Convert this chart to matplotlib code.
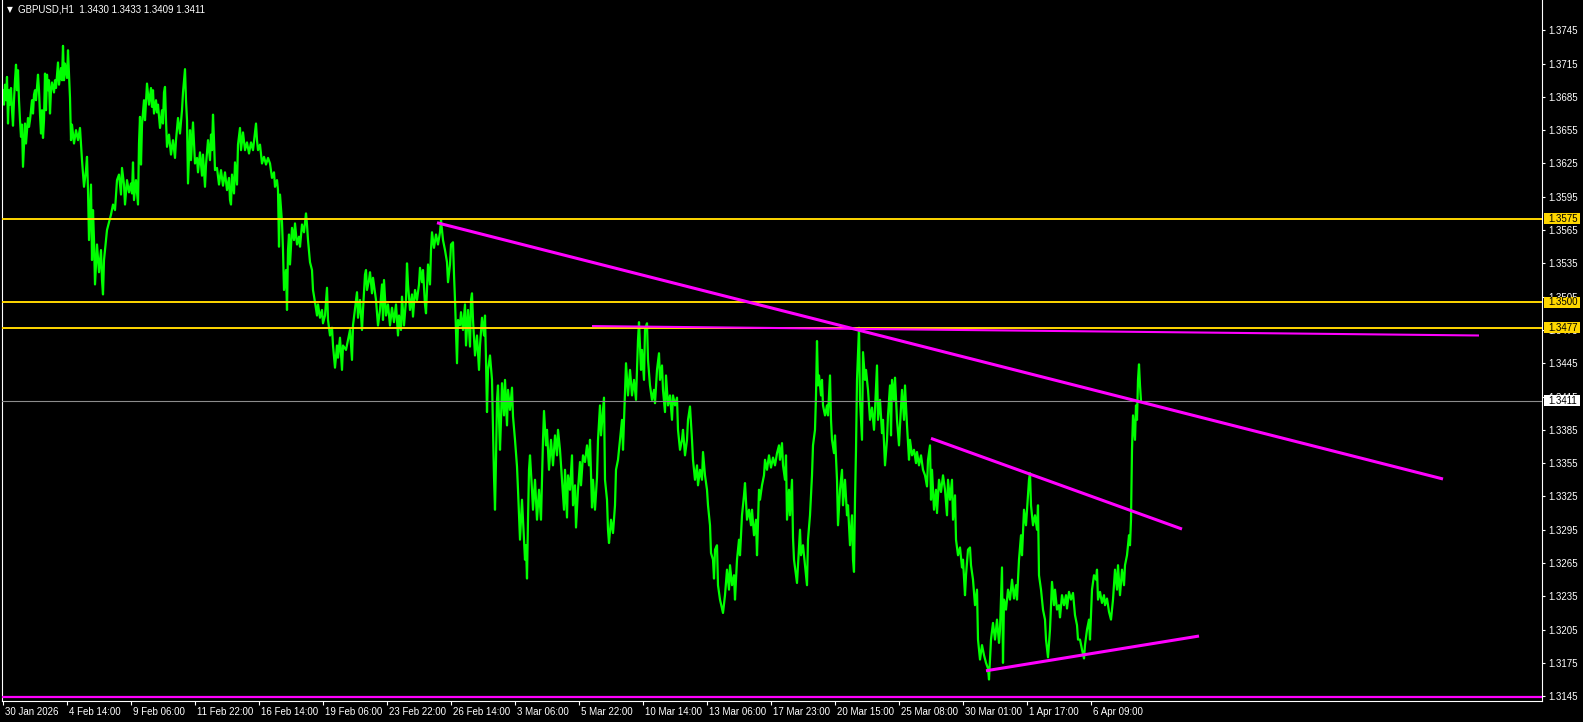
import matplotlib
matplotlib.use("Agg")
import matplotlib.pyplot as plt
from matplotlib.patches import Rectangle
from matplotlib.transforms import ScaledTranslation

plt.rcParams['font.family'] = ['Liberation Sans', 'DejaVu Sans']

symbol = "GBPUSD,H1"
last_ohlc = [1.3430, 1.3433, 1.3409, 1.3411]

# price path, (bar number, price)
seg_a = [(0,1.3691),(1,1.3678),(2,1.3696),(3,1.3682),(4,1.3703),(5,1.3661),(6,1.3691),(7,1.3678),(8,1.3693),(9,1.3673),
         (10,1.3659),(11,1.3682),(12,1.3700),(13,1.3714),(14,1.3691),(15,1.3709),(16,1.3682),(17,1.3664),(18,1.3649),(19,1.3660),
         (20,1.3622),(21,1.3642),(22,1.3661),(23,1.3643),(24,1.3655),(25,1.3666),(26,1.3658),(27,1.3664),(29,1.3682),(30,1.3670),
         (31,1.3687),(32,1.3691),(33,1.3682),(35,1.3705),(36,1.3691),(37,1.3669),(38,1.3652),(39,1.3673),(40,1.3648),(41,1.3664),
         (42,1.3706),(43,1.3673),(44,1.3705),(45,1.3691),(46,1.3700),(47,1.3670),(48,1.3691),(49,1.3698),(51,1.3689),(52,1.3700),
         (53,1.3693),(55,1.3716),(56,1.3696),(58,1.3711),(59,1.3700),(60,1.3731),(61,1.3700),(62,1.3715),(64,1.3702),(65,1.3727),
         (66,1.3705),(67,1.3684),(68,1.3646),(69,1.3660),(71,1.3643),(73,1.3655),(75,1.3646),(77,1.3657),(79,1.3628),(81,1.3604),
         (83,1.3619),(84,1.3631),(85,1.3601),(86,1.3556),(88,1.3606),(89,1.3538),(90,1.3583),(91,1.3556),(92,1.3516),(94,1.3552),
         (96,1.3527),(98,1.3547),(99,1.3520),(100,1.3507),(101,1.3538),(102,1.3547),(104,1.3565),(106,1.3572),(108,1.3579),(110,1.3588),
         (112,1.3583),(114,1.3610),(116,1.3615),(118,1.3597),(119,1.3621),(121,1.3606),(122,1.3588),(124,1.3610),(126,1.3599),(128,1.3607),
         (129,1.3598),(130,1.3626),(131,1.3592),(133,1.3610),(135,1.3588),(136,1.3643),(137,1.3667),(138,1.3624),(139,1.3660),(141,1.3682),
         (142,1.3664),(144,1.3697),(146,1.3678),(148,1.3693),(149,1.3676),(150,1.3691),(151,1.3670),(153,1.3682),(154,1.3671),(155,1.3678),
         (157,1.3657),(159,1.3673),(160,1.3661),(161,1.3689),(162,1.3694),(163,1.3664),(164,1.3640),(166,1.3651),(168,1.3633),(170,1.3646),
         (172,1.3630),(173,1.3646),(175,1.3666),(177,1.3652),(179,1.3673),(180,1.3689),(182,1.3710),(183,1.3682),(184,1.3664),(185,1.3607)]

seg_b = [(187,1.3655),(188,1.3628),(190,1.3662),(192,1.3625),(194,1.3630),(195,1.3617),(197,1.3635),(199,1.3614),(200,1.3633),(202,1.3604),
         (203,1.3624),(205,1.3646),(207,1.3628),(208,1.3651),(209,1.3637),(210,1.3669),(211,1.3646),(212,1.3619),(214,1.3621),(216,1.3606),
         (218,1.3619),(220,1.3605),(222,1.3617),(224,1.3601),(226,1.3612),(227,1.3592),(228,1.3588),(229,1.3615),(231,1.3598),(232,1.3626),
         (234,1.3606),(235,1.3642),(237,1.3657),(238,1.3637),(240,1.3653),(242,1.3637),(244,1.3644),(246,1.3634),(248,1.3644),(250,1.3637),
         (253,1.3661),(254,1.3646),(255,1.3637),(257,1.3642),(259,1.3625),(261,1.3631),(263,1.3624),(265,1.3630),(267,1.3625),(269,1.3612),
         (271,1.3617),(272,1.3604),(274,1.3610),(275,1.3601),(276,1.3550),(277,1.3597),(279,1.3572),(280,1.3547),(281,1.3511),(283,1.3529),
         (284,1.3493),(285,1.3547),(286,1.3561),(287,1.3534),(289,1.3567),(291,1.3556),(292,1.3571),(294,1.3552),(296,1.3559),(297,1.3550),
         (299,1.3570),(301,1.3563),(303,1.3580),(304,1.3570),(305,1.3556),(307,1.3536),(309,1.3529),(310,1.3511),(312,1.3500),(314,1.3488),
         (315,1.3498),(317,1.3486),(319,1.3493),(320,1.3481),(322,1.3488),(324,1.3513),(325,1.3484),(327,1.3470),(329,1.3477),(330,1.3461),
         (332,1.3441),(334,1.3461),(335,1.3450),(337,1.3468),(339,1.3439),(340,1.3461),(343,1.3457),(347,1.3475),(349,1.3448),(350,1.3479),
         (353,1.3502),(354,1.3509),(355,1.3486),(357,1.3502),(359,1.3475),(360,1.3493),(362,1.3525),(363,1.3529),(364,1.3511),(366,1.3520),
         (367,1.3527),(369,1.3508),(370,1.3522),(373,1.3502),(375,1.3479),(377,1.3493)]

seg_c = [(379,1.3516),(380,1.3484),(381,1.3520),(383,1.3488),(385,1.3498),(387,1.3479),(389,1.3495),(391,1.3482),(393,1.3498),(395,1.3470),
         (396,1.3488),(398,1.3475),(399,1.3505),(401,1.3479),(403,1.3502),(404,1.3535),(405,1.3516),(407,1.3493),(409,1.3507),(410,1.3487),
         (412,1.3511),(414,1.3502),(416,1.3516),(417,1.3531),(419,1.3518),(420,1.3529),(422,1.3498),(423,1.3490),(424,1.3511),(425,1.3534),
         (427,1.3516),(428,1.3547),(429,1.3563),(431,1.3549),(433,1.3561),(435,1.3552),(437,1.3563),(438,1.3574),(440,1.3556),(442,1.3547),
         (444,1.3536),(445,1.3518),(447,1.3534),(448,1.3552),(450,1.3554),(451,1.3525),(452,1.3502),(453,1.3475),(454,1.3445),(455,1.3484),
         (457,1.3479),(458,1.3491),(460,1.3475),(462,1.3498),(463,1.3461),(465,1.3493),(467,1.3460),(468,1.3502),(469,1.3508),(470,1.3484),
         (472,1.3452),(474,1.3470),(476,1.3439),(477,1.3461),(479,1.3486),(481,1.3470),(482,1.3488),(483,1.3448),(484,1.3401),(485,1.3439),
         (487,1.3452),(489,1.3430),(490,1.3385),(491,1.3343),(492,1.3313),(493,1.3358),(494,1.3412),(495,1.3425),(497,1.3367),(498,1.3394),
         (499,1.3427),(501,1.3398),(502,1.3430),(504,1.3389),(505,1.3421),(507,1.3403),(509,1.3423),(510,1.3397),(512,1.3376),(514,1.3352),
         (515,1.3331),(517,1.3286),(519,1.3322),(520,1.3304),(522,1.3268),(523,1.3281),(524,1.3251),(525,1.3304),(526,1.3349),(527,1.3362),
         (529,1.3331),(530,1.3313),(532,1.3340),(534,1.3304),(536,1.3331),(538,1.3304),(539,1.3340),(540,1.3376),(541,1.3402),(543,1.3371),
         (544,1.3385),(546,1.3349),(548,1.3376),(550,1.3353),(552,1.3380),(554,1.3362),(555,1.3385),(557,1.3367),(559,1.3340),(561,1.3313),
         (562,1.3349),(564,1.3306),(565,1.3344),(567,1.3331)]

seg_d = [(569,1.3362),(570,1.3317),(572,1.3335),(573,1.3297),(575,1.3331),(577,1.3356),(578,1.3335),(580,1.3362),(582,1.3356),(584,1.3371),
         (586,1.3353),(587,1.3376),(589,1.3315),(590,1.3340),(592,1.3313),(594,1.3342),(595,1.3376),(597,1.3407),(598,1.3380),(600,1.3403),
         (601,1.3414),(602,1.3340),(604,1.3322),(605,1.3295),(606,1.3283),(608,1.3304),(610,1.3292),(612,1.3317),(613,1.3349),(615,1.3358),
         (617,1.3376),(619,1.3394),(620,1.3367),(622,1.3421),(623,1.3445),(625,1.3416),(627,1.3439),(629,1.3416),(631,1.3430),(633,1.3412),
         (634,1.3439),(635,1.3466),(636,1.3482),(638,1.3439),(639,1.3457),(641,1.3430),(642,1.3475),(644,1.3481),(645,1.3448),(647,1.3425),
         (649,1.3412),(651,1.3421),(652,1.3409),(654,1.3439),(656,1.3454),(657,1.3430),(659,1.3443),(660,1.3421),(662,1.3401),(663,1.3434),
         (665,1.3407),(667,1.3416),(669,1.3394),(670,1.3416),(672,1.3407),(674,1.3414),(675,1.3385),(677,1.3367),(679,1.3376),(680,1.3385),
         (682,1.3362),(684,1.3376),(685,1.3394),(687,1.3406),(689,1.3376),(690,1.3358),(692,1.3340),(694,1.3353),(695,1.3335),(697,1.3349),
         (699,1.3340),(700,1.3365),(702,1.3344),(704,1.3331),(705,1.3317),(707,1.3299),(708,1.3274),(710,1.3268),(711,1.3251),(712,1.3277),
         (714,1.3281),(715,1.3245),(717,1.3232),(719,1.3224),(720,1.3220),(722,1.3236),(724,1.3259),(726,1.3241),(727,1.3263),(729,1.3245),
         (731,1.3254),(732,1.3232),(734,1.3268),(736,1.3286),(737,1.3272),(739,1.3308),(741,1.3326),(742,1.3337),(744,1.3304),(746,1.3313),
         (748,1.3299),(749,1.3313),(751,1.3290),(753,1.3304),(754,1.3272),(756,1.3331),(757,1.3322)]

seg_e = [(759,1.3335),(761,1.3344),(762,1.3358),(764,1.3349),(766,1.3362),(768,1.3351),(770,1.3360),(772,1.3353),(774,1.3364),(776,1.3371),
         (777,1.3358),(779,1.3373),(780,1.3353),(782,1.3340),(783,1.3362),(784,1.3304),(786,1.3331),(787,1.3308),(789,1.3340),(790,1.3288),
         (791,1.3268),(793,1.3254),(794,1.3247),(795,1.3263),(797,1.3295),(798,1.3272),(800,1.3281),(802,1.3263),(804,1.3245),(805,1.3286),
         (807,1.3308),(809,1.3344),(810,1.3371),(812,1.3385),(813,1.3416),(814,1.3465),(815,1.3425),(816,1.3434),(818,1.3416),(819,1.3430),
         (820,1.3407),(822,1.3398),(824,1.3407),(825,1.3398),(827,1.3434),(828,1.3394),(829,1.3376),(831,1.3364),(832,1.3380),(834,1.3340),
         (835,1.3299),(837,1.3331),(839,1.3349),(840,1.3317),(842,1.3340),(844,1.3308),(845,1.3317),(847,1.3281),(849,1.3308),(850,1.3268),
         (851,1.3257),(852,1.3322),(853,1.3367),(854,1.3430),(856,1.3477),(857,1.3412),(859,1.3376),(860,1.3455),(862,1.3430),(863,1.3439),
         (865,1.3421),(867,1.3394),(869,1.3405),(871,1.3385),(872,1.3403),(874,1.3443),(875,1.3394),(877,1.3412),(879,1.3382),(880,1.3394),
         (882,1.3353),(884,1.3376),(885,1.3398),(887,1.3425),(888,1.3380),(889,1.3430),(891,1.3412),(892,1.3432),(894,1.3394),(896,1.3371),
         (897,1.3389),(899,1.3421),(901,1.3394),(902,1.3425),(904,1.3389),(906,1.3358),(907,1.3376),(909,1.3362),(911,1.3367),(913,1.3355),
         (914,1.3365),(916,1.3353),(918,1.3362),(920,1.3349),(922,1.3344),(924,1.3334),(925,1.3358),(927,1.3371),(928,1.3322),(929,1.3349),
         (931,1.3313),(933,1.3331),(934,1.3310),(936,1.3340),(938,1.3329),(940,1.3344),(942,1.3331),(944,1.3308),(945,1.3340),(947,1.3322)]

seg_f = [(949,1.3340),(950,1.3304),(952,1.3326),(953,1.3286),(955,1.3272),(957,1.3279),(959,1.3261),(960,1.3268),(962,1.3236),(963,1.3254),
         (965,1.3277),(967,1.3279),(968,1.3263),(970,1.3250),(972,1.3227),(974,1.3241),(975,1.3196),(977,1.3178),(979,1.3191),(981,1.3182),
         (983,1.3175),(985,1.3170),(986,1.3160),(987,1.3178),(988,1.3196),(990,1.3211),(992,1.3196),(994,1.3214),(996,1.3193),(997,1.3205),
         (999,1.3261),(1000,1.3175),(1001,1.3232),(1003,1.3223),(1005,1.3241),(1007,1.3232),(1009,1.3250),(1011,1.3233),(1013,1.3245),(1014,1.3232),
         (1016,1.3268),(1018,1.3290),(1019,1.3272),(1021,1.3313),(1023,1.3299),(1025,1.3326),(1026,1.3340),(1027,1.3346),(1028,1.3317),(1030,1.3299),
         (1032,1.3308),(1034,1.3295),(1035,1.3317),(1036,1.3254),(1038,1.3241),(1040,1.3223),(1042,1.3214),(1043,1.3196),(1045,1.3180),(1047,1.3205),
         (1049,1.3248),(1051,1.3227),(1052,1.3241),(1054,1.3223),(1056,1.3227),(1057,1.3216),(1059,1.3236),(1061,1.3227),(1063,1.3236),(1064,1.3224),
         (1066,1.3239),(1068,1.3232),(1070,1.3238),(1072,1.3218),(1074,1.3209),(1075,1.3196),(1077,1.3196),(1079,1.3187),(1081,1.3179),(1082,1.3191),
         (1084,1.3205),(1086,1.3214),(1087,1.3196),(1089,1.3241),(1091,1.3254),(1093,1.3250),(1094,1.3259),(1095,1.3232),(1097,1.3239),(1099,1.3229),
         (1101,1.3236),(1102,1.3227),(1104,1.3233),(1106,1.3221),(1108,1.3214),(1110,1.3232),(1112,1.3259),(1114,1.3241),(1115,1.3263),(1117,1.3236),
         (1119,1.3259),(1121,1.3245),(1122,1.3263),(1124,1.3272),(1126,1.3290),(1127,1.3281),(1128,1.3304),(1129,1.3367),(1130,1.3398),(1132,1.3376),
         (1133,1.3407),(1134,1.3394),(1135,1.3430),(1136,1.3444),(1137,1.3425),(1138,1.3411)]

time_labels = ['30 Jan 2026', '4 Feb 14:00', '9 Feb 06:00', '11 Feb 22:00', '16 Feb 14:00', '19 Feb 06:00',
               '23 Feb 22:00', '26 Feb 14:00', '3 Mar 06:00', '5 Mar 22:00', '10 Mar 14:00', '13 Mar 06:00',
               '17 Mar 23:00', '20 Mar 15:00', '25 Mar 08:00', '30 Mar 01:00', '1 Apr 17:00', '6 Apr 09:00']
bars_per_label = 64

price_top = 1.3745
price_step = 0.0030
n_price_ticks = 21

levels = [1.3575, 1.3500, 1.3477]      # yellow horizontal lines
bid = 1.3411
# magenta trendlines: start bar, start price, end bar, end price
trend_lines = [(434, 1.35716, 1440, 1.33407),
               (589, 1.34785, 1476, 1.34700),
               (928, 1.33773, 1179, 1.32956),
               (983, 1.31679, 1196, 1.31992)]
bottom_line = 1.31445

path = seg_a + seg_b + seg_c + seg_d + seg_e + seg_f
xs = [p[0] for p in path]
ys = [p[1] for p in path]

W, H = 1583, 722
fig = plt.figure(figsize=(W / 100, H / 100), dpi=100, facecolor='black')
ax = fig.add_axes([2 / W, 21 / H, 1540 / W, 701 / H])
ax.set_facecolor('black')
ax.set_xlim(-1, 1539)
ax.set_ylim(1.314066, 1.37723)

ax.plot(xs, ys, color='#00ff00', lw=1.6, zorder=2)

for lv in levels:
    ax.axhline(lv, color='#ffd700', lw=1.4, zorder=3)
ax.axhline(bid, color='#8c8c8c', lw=0.8, zorder=3)

for i, (x0, y0, x1, y1) in enumerate(trend_lines):
    ax.plot([x0, x1], [y0, y1], color='#ff00ff', lw=1.5 if i == 1 else 2.2,
            solid_capstyle='butt', zorder=4)
ax.axhline(bottom_line, color='#ff00ff', lw=1.6, zorder=4)

for s in ['left', 'bottom', 'right']:
    ax.spines[s].set_color('white')
    ax.spines[s].set_linewidth(0.8)
ax.spines['top'].set_visible(False)

# price scale on the right
ax.yaxis.tick_right()
yt = [round(price_top - i * price_step, 4) for i in range(n_price_ticks)]
ax.set_yticks(yt)
ax.set_yticklabels([f"{v:.4f}" for v in yt])
ax.tick_params(axis='y', colors='white', labelsize=7, length=2.5, width=0.8, pad=2)

# time scale
ax.set_xticks([i * bars_per_label for i in range(len(time_labels))])
ax.set_xticklabels(time_labels, ha='left')
ax.tick_params(axis='x', colors='white', labelsize=7, length=3, width=0.8, pad=1.5)
shift = ScaledTranslation(2 / 100, 0, fig.dpi_scale_trans)
for lab in ax.get_xticklabels():
    lab.set_transform(lab.get_transform() + shift)

# price tags on the scale
tr = ax.get_yaxis_transform()
box_h = 11 / 11098
for val, face in [(v, '#ffd700') for v in levels] + [(bid, 'white')]:
    ax.add_patch(Rectangle((1 + 2 / 1540, val - box_h / 2), 36 / 1540, box_h, transform=tr,
                           facecolor=face, edgecolor='none', clip_on=False, zorder=6))
    ax.text(1 + 6 / 1540, val, f"{val:.4f}", transform=tr, color='black', fontsize=7,
            ha='left', va='center', clip_on=False, zorder=7)

# header
fig.text(7 / W, 1 - 10 / H, '\u25bc', color='white', fontsize=5.5, va='center', family='DejaVu Sans')
fig.text(18 / W, 1 - 10 / H, symbol + "  " + " ".join(f"{v:.4f}" for v in last_ohlc),
         color='white', fontsize=7, va='center')

fig.savefig('out.png', dpi=100, facecolor='black')
